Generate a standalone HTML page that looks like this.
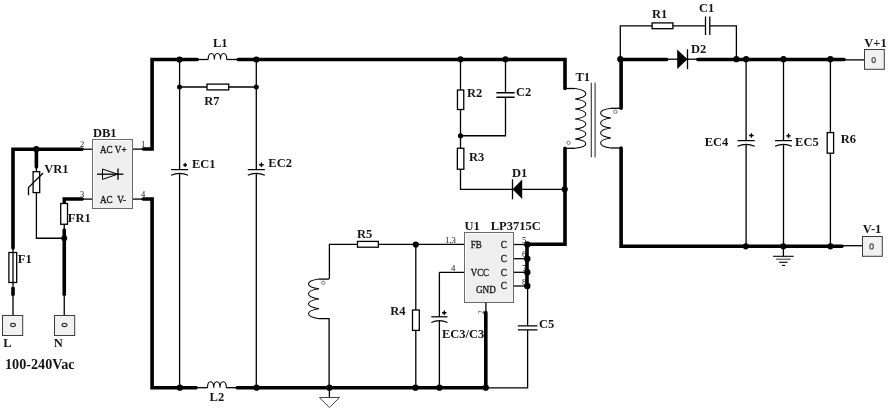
<!DOCTYPE html><html><head><meta charset="utf-8"><style>html,body{margin:0;padding:0;background:#fff;width:889px;height:412px;overflow:hidden}svg{display:block;will-change:transform}</style></head><body><svg width="889" height="412" viewBox="0 0 889 412" style="font-family:&quot;Liberation Serif&quot;, serif">
<rect width="889" height="412" fill="#fff"/>
<path d="M13,150V286" fill="none" stroke="#000" stroke-width="1.3"/>
<path d="M13,296V315" fill="none" stroke="#000" stroke-width="1.3"/>
<path d="M64.25,296V315" fill="none" stroke="#000" stroke-width="1.3"/>
<path d="M82,149.2H92.5" fill="none" stroke="#000" stroke-width="1.3"/>
<path d="M82,199.1H92.5" fill="none" stroke="#000" stroke-width="1.3"/>
<path d="M132.5,149.1H144" fill="none" stroke="#000" stroke-width="1.3"/>
<path d="M132.5,199.1H144" fill="none" stroke="#000" stroke-width="1.3"/>
<path d="M36.4,168V238.25H64.25" fill="none" stroke="#000" stroke-width="1.3"/>
<path d="M64.25,224V229" fill="none" stroke="#000" stroke-width="1.3"/>
<path d="M13,248V149.2H82" fill="none" stroke="#000" stroke-width="3.6" stroke-linecap="round" stroke-linejoin="miter"/>
<path d="M36.4,149.2V167" fill="none" stroke="#000" stroke-width="3.6" stroke-linecap="round" stroke-linejoin="miter"/>
<path d="M82.2,199.0H64.3V202" fill="none" stroke="#000" stroke-width="3.6" stroke-linecap="round" stroke-linejoin="miter"/>
<path d="M13,288V294.5" fill="none" stroke="#000" stroke-width="3.6" stroke-linecap="round" stroke-linejoin="miter"/>
<path d="M64.25,230V294.5" fill="none" stroke="#000" stroke-width="3.6" stroke-linecap="round" stroke-linejoin="miter"/>
<rect x="8.9" y="252.5" width="7.8" height="30" fill="#fff" stroke="#000" stroke-width="1.3"/>
<path d="M13,252.5V282.5" fill="none" stroke="#000" stroke-width="1.3"/>
<rect x="33.1" y="171.7" width="6.6" height="20.900000000000006" fill="#fff" stroke="#000" stroke-width="1.3"/>
<path d="M28.5,195.3V187.5L43.1,173" fill="none" stroke="#000" stroke-width="1.3"/>
<rect x="60.699999999999996" y="203.5" width="6.8" height="20.75" fill="#fff" stroke="#000" stroke-width="1.3"/>
<circle cx="36.3" cy="149.2" r="3.1" fill="#000"/>
<circle cx="64.25" cy="238.25" r="2.9" fill="#000"/>
<rect x="2.5" y="315.5" width="20.2" height="20" fill="#f1f1f1" stroke="#3c3c3c" stroke-width="1"/>
<rect x="54.5" y="315.5" width="20.2" height="20" fill="#f1f1f1" stroke="#3c3c3c" stroke-width="1"/>
<ellipse cx="13" cy="325" rx="2.5" ry="1.6" fill="none" stroke="#333" stroke-width="1.1"/>
<ellipse cx="64.5" cy="325" rx="2.5" ry="1.6" fill="none" stroke="#333" stroke-width="1.1"/>
<rect x="92.5" y="139.5" width="40" height="69" fill="#efefef" stroke="#6a6a6a" stroke-width="1"/>
<path d="M93.5,207.5V140.5H131.5" fill="none" stroke="#fff" stroke-width="1"/>
<path d="M97,174.2H123.4" fill="none" stroke="#000" stroke-width="1.3"/>
<path d="M102.5,169L117.5,174.2L102.5,179.4Z" fill="none" stroke="#000" stroke-width="1"/>
<path d="M118,168.4V179.8" fill="none" stroke="#000" stroke-width="1.3"/>
<text transform="translate(100,152.9) scale(0.9,1)" font-size="10.2" font-weight="normal" fill="#151515" stroke="#151515" stroke-width="0.3" text-anchor="start" >AC V+</text>
<text transform="translate(100,202.8) scale(0.9,1)" font-size="10.2" font-weight="normal" fill="#151515" stroke="#151515" stroke-width="0.3" text-anchor="start" >AC&#160;&#160;V-</text>
<text x="80" y="147" font-size="8.5" font-weight="normal" fill="#151515" text-anchor="start" >2</text>
<text x="80" y="197" font-size="8.5" font-weight="normal" fill="#151515" text-anchor="start" >3</text>
<text x="141" y="147" font-size="8.5" font-weight="normal" fill="#151515" text-anchor="start" >1</text>
<text x="141" y="197" font-size="8.5" font-weight="normal" fill="#151515" text-anchor="start" >4</text>
<path d="M143.5,149.0H152.1V59.5H197.2" fill="none" stroke="#000" stroke-width="3.6" stroke-linecap="round" stroke-linejoin="miter"/>
<path d="M143.2,199.0H152.1V387.7H196.2" fill="none" stroke="#000" stroke-width="3.6" stroke-linecap="round" stroke-linejoin="miter"/>
<text x="93" y="136.8" font-size="12.5" font-weight="bold" fill="#151515" text-anchor="start" >DB1</text>
<text x="44.2" y="172.9" font-size="12.5" font-weight="bold" fill="#151515" text-anchor="start" >VR1</text>
<text x="67.8" y="222" font-size="12.5" font-weight="bold" fill="#151515" text-anchor="start" >FR1</text>
<text x="17.8" y="263" font-size="12.5" font-weight="bold" fill="#151515" text-anchor="start" >F1</text>
<text x="3.3" y="347" font-size="12.5" font-weight="bold" fill="#151515" text-anchor="start" >L</text>
<text x="53.8" y="347" font-size="12.5" font-weight="bold" fill="#151515" text-anchor="start" >N</text>
<text x="5" y="369.25" font-size="14.2" font-weight="bold" fill="#151515" text-anchor="start" >100-240Vac</text>
<path d="M198,59.5H208.2" fill="none" stroke="#000" stroke-width="1.3"/>
<path d="M208.2,59.5 C208.2,51.519999999999996 214.36666666666665,51.519999999999996 214.36666666666665,59.5 C214.36666666666665,51.519999999999996 220.5333333333333,51.519999999999996 220.5333333333333,59.5 C220.53333333333333,51.519999999999996 226.7,51.519999999999996 226.7,59.5" fill="none" stroke="#000" stroke-width="1.1"/>
<path d="M226.7,59.5H237" fill="none" stroke="#000" stroke-width="1.3"/>
<path d="M238.2,59.5H565V88.5" fill="none" stroke="#000" stroke-width="3.6" stroke-linecap="round" stroke-linejoin="miter"/>
<path d="M198,387.7H207.5" fill="none" stroke="#000" stroke-width="1.3"/>
<path d="M207.5,387.7 C207.5,379.71999999999997 213.76666666666668,379.71999999999997 213.76666666666668,387.7 C213.76666666666668,379.71999999999997 220.03333333333336,379.71999999999997 220.03333333333336,387.7 C220.03333333333333,379.71999999999997 226.3,379.71999999999997 226.3,387.7" fill="none" stroke="#000" stroke-width="1.1"/>
<path d="M226.3,387.7H236" fill="none" stroke="#000" stroke-width="1.3"/>
<path d="M237.2,387.7H485.8V312.5" fill="none" stroke="#000" stroke-width="3.6" stroke-linecap="round" stroke-linejoin="miter"/>
<path d="M179.5,87H256.3" fill="none" stroke="#000" stroke-width="1.3"/>
<rect x="207" y="84.1" width="21.75" height="5.8" fill="#fff" stroke="#000" stroke-width="1.3"/>
<path d="M179.6,59.5V169.6M179.6,173.8V387.7" fill="none" stroke="#000" stroke-width="1.3"/>
<path d="M171.1,169.6H188.1" fill="none" stroke="#000" stroke-width="1.25"/>
<path d="M171.1,175.2Q179.6,171.5 188.1,175.2" fill="none" stroke="#000" stroke-width="1.15"/>
<path d="M183.2,165.0H187.0M185.1,163.1V166.9" fill="none" stroke="#000" stroke-width="1.4"/>
<path d="M256.3,59.5V169.6M256.3,173.8V387.7" fill="none" stroke="#000" stroke-width="1.3"/>
<path d="M247.8,169.6H264.8" fill="none" stroke="#000" stroke-width="1.25"/>
<path d="M247.8,175.2Q256.3,171.5 264.8,175.2" fill="none" stroke="#000" stroke-width="1.15"/>
<path d="M259.1,164.79999999999998H263.70000000000005M261.40000000000003,162.49999999999997V167.1" fill="none" stroke="#000" stroke-width="1.4"/>
<circle cx="179.5" cy="59.5" r="3.1" fill="#000"/>
<circle cx="256.3" cy="59.5" r="3.1" fill="#000"/>
<circle cx="179.9" cy="387.7" r="3.1" fill="#000"/>
<circle cx="256.5" cy="387.7" r="3.1" fill="#000"/>
<circle cx="179.5" cy="87" r="2.5" fill="#000"/>
<circle cx="256.3" cy="87" r="2.5" fill="#000"/>
<text x="213" y="47.1" font-size="12.5" font-weight="bold" fill="#151515" text-anchor="start" >L1</text>
<text x="204.2" y="104.5" font-size="12.5" font-weight="bold" fill="#151515" text-anchor="start" >R7</text>
<text x="192" y="167.7" font-size="12.5" font-weight="bold" fill="#151515" text-anchor="start" >EC1</text>
<text x="268.3" y="167.2" font-size="12.5" font-weight="bold" fill="#151515" text-anchor="start" >EC2</text>
<text x="209.6" y="400.9" font-size="12.5" font-weight="bold" fill="#151515" text-anchor="start" >L2</text>
<path d="M329.4,279.1V244.3H464.4" fill="none" stroke="#000" stroke-width="1.3"/>
<rect x="357.5" y="241.4" width="20.899999999999977" height="5.8" fill="#fff" stroke="#000" stroke-width="1.3"/>
<path d="M329.1,279.1H319.0" fill="none" stroke="#000" stroke-width="1.3"/>
<path d="M319.0,279.1 C305.00,281.04 305.00,286.86 319.0,288.8 C305.00,290.82 305.00,296.88 319.0,298.9 C305.00,300.88 305.00,306.82 319.0,308.8 C305.00,310.78 305.00,316.72 319.0,318.7" fill="none" stroke="#000" stroke-width="1.05"/>
<path d="M319.0,318.7H329.1V387.7" fill="none" stroke="#000" stroke-width="1.3"/>
<circle cx="323.3" cy="282.7" r="1.7" fill="none" stroke="#666" stroke-width="0.9"/>
<path d="M329.4,387.7V397.5" fill="none" stroke="#000" stroke-width="1.3"/>
<path d="M319.4,397.5H339.6L329.4,407.5Z" fill="none" stroke="#444" stroke-width="1"/>
<path d="M415.8,244.5V387.7" fill="none" stroke="#000" stroke-width="1.3"/>
<rect x="412.5" y="310.0" width="6.8" height="20.399999999999977" fill="#fff" stroke="#000" stroke-width="1.3"/>
<path d="M439.4,272.3H464.4M439.4,272.3V316.8M439.4,321V387.7" fill="none" stroke="#000" stroke-width="1.3"/>
<path d="M431.29999999999995,316.8H447.5" fill="none" stroke="#000" stroke-width="1.25"/>
<path d="M431.29999999999995,322.40000000000003Q439.4,318.7 447.5,322.40000000000003" fill="none" stroke="#000" stroke-width="1.15"/>
<path d="M442.09999999999997,312.7H446.49999999999994M444.29999999999995,310.5V314.9" fill="none" stroke="#000" stroke-width="1.4"/>
<rect x="464.5" y="232.5" width="49" height="70" fill="#efefef" stroke="#6a6a6a" stroke-width="1"/>
<path d="M465.5,301.5V233.5H512.5" fill="none" stroke="#fff" stroke-width="1"/>
<text transform="translate(470.8,247.9) scale(0.88,1)" font-size="10.2" font-weight="normal" fill="#151515" stroke="#151515" stroke-width="0.3" text-anchor="start" >FB</text>
<text transform="translate(470.8,275.6) scale(0.87,1)" font-size="10.2" font-weight="normal" fill="#151515" stroke="#151515" stroke-width="0.3" text-anchor="start" >VCC</text>
<text transform="translate(475.9,293.1) scale(0.9,1)" font-size="10.2" font-weight="normal" fill="#151515" stroke="#151515" stroke-width="0.3" text-anchor="start" >GND</text>
<text transform="translate(500.7,247.7) scale(0.9,1)" font-size="10.2" font-weight="normal" fill="#151515" stroke="#151515" stroke-width="0.3" text-anchor="start" >C</text>
<path d="M513.8,244.5H527" fill="none" stroke="#000" stroke-width="1.3"/>
<text transform="translate(500.7,261.9) scale(0.9,1)" font-size="10.2" font-weight="normal" fill="#151515" stroke="#151515" stroke-width="0.3" text-anchor="start" >C</text>
<path d="M513.8,258.7H527" fill="none" stroke="#000" stroke-width="1.3"/>
<text transform="translate(500.7,275.5) scale(0.9,1)" font-size="10.2" font-weight="normal" fill="#151515" stroke="#151515" stroke-width="0.3" text-anchor="start" >C</text>
<path d="M513.8,272.3H527" fill="none" stroke="#000" stroke-width="1.3"/>
<text transform="translate(500.7,289.2) scale(0.9,1)" font-size="10.2" font-weight="normal" fill="#151515" stroke="#151515" stroke-width="0.3" text-anchor="start" >C</text>
<path d="M513.8,286.0H527" fill="none" stroke="#000" stroke-width="1.3"/>
<text x="445" y="242.8" font-size="8.8" font-weight="normal" fill="#151515" text-anchor="start" >1,3</text>
<text x="451" y="270.9" font-size="8.8" font-weight="normal" fill="#151515" text-anchor="start" >4</text>
<text x="522" y="243.0" font-size="8.8" font-weight="normal" fill="#151515" text-anchor="start" >5</text>
<text x="522" y="257.2" font-size="8.8" font-weight="normal" fill="#151515" text-anchor="start" >6</text>
<text x="522" y="270.8" font-size="8.8" font-weight="normal" fill="#151515" text-anchor="start" >7</text>
<text x="522" y="284.5" font-size="8.8" font-weight="normal" fill="#151515" text-anchor="start" >8</text>
<path d="M485.9,302.5V311" fill="none" stroke="#000" stroke-width="1.3"/>
<text x="481" y="312" font-size="7.5" fill="#333" transform="rotate(-90 481 312)" text-anchor="middle" dominant-baseline="central">2</text>
<path d="M565,148.2V244.3H527V286" fill="none" stroke="#000" stroke-width="3.6" stroke-linecap="round" stroke-linejoin="miter"/>
<circle cx="527.3" cy="244.5" r="3.2" fill="#000"/>
<circle cx="527.3" cy="258.7" r="3.2" fill="#000"/>
<circle cx="527.3" cy="272.3" r="3.2" fill="#000"/>
<circle cx="527.3" cy="286.0" r="3.2" fill="#000"/>
<path d="M527.6,286V325.9M527.6,329.9V387.8H485.8" fill="none" stroke="#000" stroke-width="1.3"/>
<path d="M517.8000000000001,325.9H537.4M517.8000000000001,329.9H537.4" fill="none" stroke="#000" stroke-width="1.3"/>
<circle cx="329.4" cy="387.7" r="3.1" fill="#000"/>
<circle cx="415.4" cy="387.7" r="3.1" fill="#000"/>
<circle cx="439.4" cy="387.7" r="3.1" fill="#000"/>
<circle cx="485.8" cy="387.7" r="3.1" fill="#000"/>
<circle cx="415.8" cy="244.5" r="3.1" fill="#000"/>
<text x="357.1" y="237.7" font-size="12.5" font-weight="bold" fill="#151515" text-anchor="start" >R5</text>
<text x="390.3" y="314.8" font-size="12.5" font-weight="bold" fill="#151515" text-anchor="start" >R4</text>
<text x="441.9" y="337.6" font-size="12.5" font-weight="bold" fill="#151515" text-anchor="start" >EC3/C3</text>
<text x="464.5" y="230" font-size="12.5" font-weight="bold" fill="#151515" text-anchor="start" >U1</text>
<text x="490.7" y="230.3" font-size="12.5" font-weight="bold" fill="#151515" text-anchor="start" >LP3715C</text>
<text x="539.1" y="327.7" font-size="12.5" font-weight="bold" fill="#151515" text-anchor="start" >C5</text>
<path d="M460.5,59.25V189.3H512.5" fill="none" stroke="#000" stroke-width="1.3"/>
<rect x="457.45000000000005" y="90" width="6.3" height="19.5" fill="#fff" stroke="#000" stroke-width="1.3"/>
<rect x="457.35" y="148.25" width="6.5" height="21.0" fill="#fff" stroke="#000" stroke-width="1.3"/>
<path d="M505.5,59.25V92.75M505.5,97.25V135.75H460.5" fill="none" stroke="#000" stroke-width="1.3"/>
<path d="M496.4,92.75H514.6M496.4,97.25H514.6" fill="none" stroke="#000" stroke-width="1.3"/>
<path d="M522.2,179.5L512.5,189.3L522.2,199.1Z" fill="#000"/>
<path d="M512.5,179.3V199.3" fill="none" stroke="#000" stroke-width="1.3"/>
<path d="M522,189.3H564.7" fill="none" stroke="#000" stroke-width="1.3"/>
<circle cx="460.5" cy="59.25" r="3.1" fill="#000"/>
<circle cx="505.5" cy="59.25" r="3.1" fill="#000"/>
<circle cx="564.7" cy="189.3" r="3.1" fill="#000"/>
<circle cx="460.5" cy="135.75" r="2.6" fill="#000"/>
<text x="467.1" y="97" font-size="12.5" font-weight="bold" fill="#151515" text-anchor="start" >R2</text>
<text x="515.9" y="95.5" font-size="12.5" font-weight="bold" fill="#151515" text-anchor="start" >C2</text>
<text x="469.1" y="160.5" font-size="12.5" font-weight="bold" fill="#151515" text-anchor="start" >R3</text>
<text x="512.1" y="177" font-size="12.5" font-weight="bold" fill="#151515" text-anchor="start" >D1</text>
<text x="575.5" y="80.9" font-size="12.5" font-weight="bold" fill="#151515" text-anchor="start" >T1</text>
<path d="M565,88.5H575.2" fill="none" stroke="#000" stroke-width="1.3"/>
<path d="M575.2,88.5 C589.33,90.58 589.33,96.82 575.2,98.9 C589.33,100.92 589.33,106.98 575.2,109.0 C589.33,111.00 589.33,117.00 575.2,119.0 C589.33,121.02 589.33,127.08 575.2,129.1 C589.33,131.08 589.33,137.02 575.2,139.0 C589.33,140.86 589.33,146.44 575.2,148.3" fill="none" stroke="#000" stroke-width="1.05"/>
<path d="M575.2,148.3H565" fill="none" stroke="#000" stroke-width="1.3"/>
<circle cx="568.5" cy="142.8" r="1.7" fill="none" stroke="#666" stroke-width="0.9"/>
<path d="M591.3,82.7V157.3M595.1,82.7V157.3" fill="none" stroke="#333" stroke-width="1.1"/>
<path d="M621,108.3H610.9" fill="none" stroke="#000" stroke-width="1.3"/>
<path d="M610.9,108.3 C597.17,110.24 597.17,116.06 610.9,118.0 C597.17,120.02 597.17,126.08 610.9,128.1 C597.17,130.06 597.17,135.94 610.9,137.9 C597.17,139.92 597.17,145.98 610.9,148.0" fill="none" stroke="#000" stroke-width="1.05"/>
<path d="M610.9,148H621" fill="none" stroke="#000" stroke-width="1.3"/>
<circle cx="615.4" cy="111.8" r="1.7" fill="none" stroke="#666" stroke-width="0.9"/>
<path d="M620.3,59.2V25.8H705.5M709.8,25.8H736.4V59.2" fill="none" stroke="#000" stroke-width="1.3"/>
<rect x="652.1" y="22.900000000000002" width="20.799999999999955" height="5.8" fill="#fff" stroke="#000" stroke-width="1.3"/>
<path d="M705.5,16.6V35.0M709.8,16.6V35.0" fill="none" stroke="#000" stroke-width="1.3"/>
<path d="M668,59.2H697" fill="none" stroke="#000" stroke-width="1.3"/>
<path d="M677.2,49.5L687.5,59.2L677.2,68.9Z" fill="#000"/>
<path d="M687.5,49.3V69.1" fill="none" stroke="#000" stroke-width="1.3"/>
<path d="M666.7,59.5H621.1V108.3" fill="none" stroke="#000" stroke-width="3.6" stroke-linecap="round" stroke-linejoin="miter"/>
<path d="M621.1,148V246.3H842" fill="none" stroke="#000" stroke-width="3.6" stroke-linecap="round" stroke-linejoin="miter"/>
<path d="M697.8,59.5H844" fill="none" stroke="#000" stroke-width="3.6" stroke-linecap="round" stroke-linejoin="miter"/>
<path d="M845,59.9H864.2" fill="none" stroke="#000" stroke-width="1.3"/>
<path d="M843,245.7H862.5" fill="none" stroke="#000" stroke-width="1.3"/>
<path d="M746.1,59.2V140.6M746.1,144.3V246.1" fill="none" stroke="#000" stroke-width="1.3"/>
<path d="M737.5,140.6H754.7" fill="none" stroke="#000" stroke-width="1.25"/>
<path d="M737.5,146.2Q746.1,142.5 754.7,146.2" fill="none" stroke="#000" stroke-width="1.15"/>
<path d="M749.1,135.5H753.6999999999999M751.4,133.2V137.8" fill="none" stroke="#000" stroke-width="1.4"/>
<path d="M783.5,59.2V140.6M783.5,144.3V246.1" fill="none" stroke="#000" stroke-width="1.3"/>
<path d="M775.1,140.6H791.9" fill="none" stroke="#000" stroke-width="1.25"/>
<path d="M775.1,146.2Q783.5,142.5 791.9,146.2" fill="none" stroke="#000" stroke-width="1.15"/>
<path d="M786.2,135.9H790.8M788.5,133.6V138.20000000000002" fill="none" stroke="#000" stroke-width="1.4"/>
<path d="M830.4,59.2V246.1" fill="none" stroke="#000" stroke-width="1.3"/>
<rect x="827.1999999999999" y="132.6" width="6.4" height="20.599999999999994" fill="#fff" stroke="#000" stroke-width="1.3"/>
<path d="M783.4,246.2V256.3" fill="none" stroke="#000" stroke-width="1.3"/>
<path d="M773.1,256.3H793.7" fill="none" stroke="#000" stroke-width="1.1"/>
<path d="M775.9,259.3H790.7" fill="none" stroke="#777" stroke-width="1.6"/>
<path d="M779.1,262.3H787.6" fill="none" stroke="#000" stroke-width="1.1"/>
<path d="M781.9,265.4H785.2" fill="none" stroke="#000" stroke-width="1.1"/>
<circle cx="620.3" cy="59.2" r="3.1" fill="#000"/>
<circle cx="736.4" cy="59.2" r="3.1" fill="#000"/>
<circle cx="746.1" cy="59.2" r="3.1" fill="#000"/>
<circle cx="783.5" cy="59.2" r="3.1" fill="#000"/>
<circle cx="830.4" cy="59.2" r="3.1" fill="#000"/>
<circle cx="745.8" cy="246.3" r="3.1" fill="#000"/>
<circle cx="783.4" cy="246.3" r="3.1" fill="#000"/>
<circle cx="830.4" cy="246.3" r="3.1" fill="#000"/>
<rect x="864.5" y="49.5" width="19.8" height="19.8" fill="#f1f1f1" stroke="#3c3c3c" stroke-width="1"/>
<rect x="862.5" y="236.5" width="19.8" height="19.8" fill="#f1f1f1" stroke="#3c3c3c" stroke-width="1"/>
<ellipse cx="873.7" cy="60.1" rx="1.7" ry="2.6" fill="none" stroke="#555" stroke-width="1.2"/>
<ellipse cx="871.6" cy="246.4" rx="1.7" ry="2.6" fill="none" stroke="#555" stroke-width="1.2"/>
<text x="651.9" y="17.9" font-size="12.5" font-weight="bold" fill="#151515" text-anchor="start" >R1</text>
<text x="699.1" y="11.7" font-size="12.5" font-weight="bold" fill="#151515" text-anchor="start" >C1</text>
<text x="691.0" y="52.8" font-size="12.5" font-weight="bold" fill="#151515" text-anchor="start" >D2</text>
<text x="704.7" y="145.9" font-size="12.5" font-weight="bold" fill="#151515" text-anchor="start" >EC4</text>
<text x="795.1" y="145.7" font-size="12.5" font-weight="bold" fill="#151515" text-anchor="start" >EC5</text>
<text x="840.7" y="142.8" font-size="12.5" font-weight="bold" fill="#151515" text-anchor="start" >R6</text>
<text x="864.3" y="46.7" font-size="12.5" font-weight="bold" fill="#151515" text-anchor="start" >V+1</text>
<text x="862.8" y="233.3" font-size="12.5" font-weight="bold" fill="#151515" text-anchor="start" >V-1</text>
</svg></body></html>
